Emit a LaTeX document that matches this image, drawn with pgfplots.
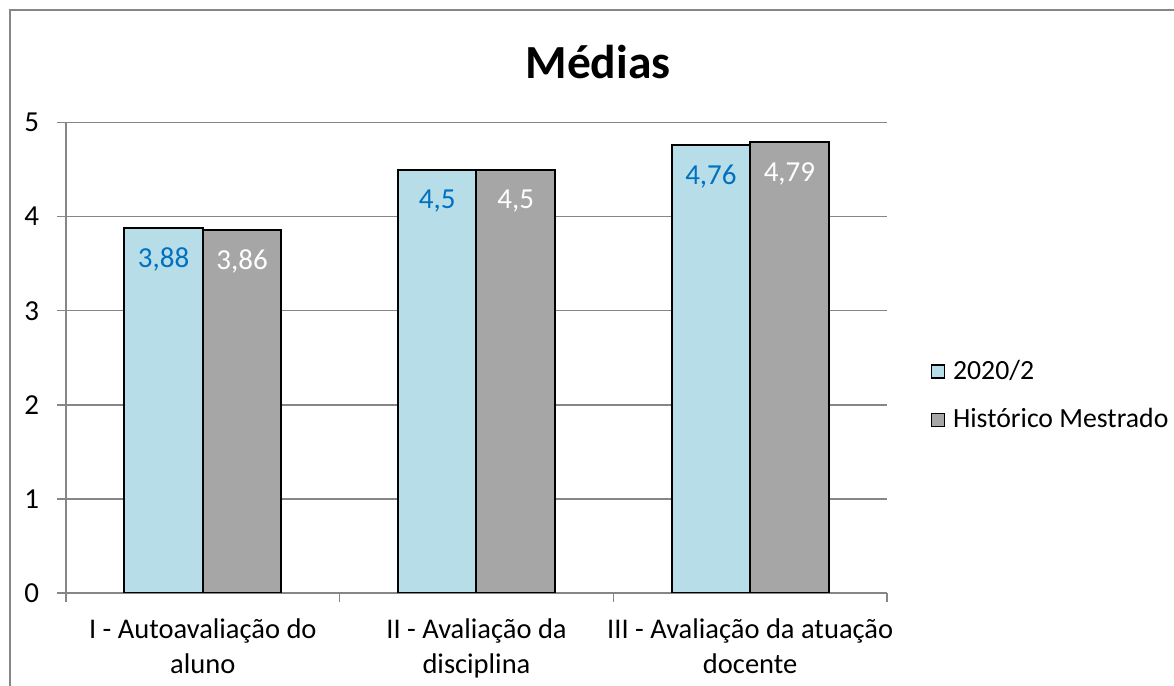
\documentclass[border=0pt]{standalone}
\usepackage{fontspec}
\setmainfont{Carlito}
\usepackage{pgfplots}
\pgfplotsset{compat=1.18}
\definecolor{barblue}{HTML}{B7DEE8}
\definecolor{bargray}{HTML}{A6A6A6}
\definecolor{axgray}{HTML}{868686}
\definecolor{lblblue}{HTML}{0070C0}
\begin{document}
\fontsize{11.4}{14}\selectfont
\begin{tikzpicture}
\path[use as bounding box] (-26.4pt,-37.2pt) rectangle (443.2pt,237.2pt);
\draw[axgray, line width=0.8pt] (-22.4pt,-37.2pt) -- (-22.4pt,233.2pt) -- (443.2pt,233.2pt);
\begin{axis}[
  at={(0,0)}, anchor=south west, scale only axis,
  width=328.4pt, height=188.2pt,
  xmin=-0.5, xmax=2.5, ymin=0, ymax=5,
  axis lines*=left,
  axis line style={axgray, line width=0.6pt},
  ytick={0,1,2,3,4,5},
  ymajorgrids, grid style={axgray, line width=0.6pt},
  tick align=outside,
  major tick length=3.6pt,
  tick style={axgray, line width=0.6pt},
  /pgf/number format/assume math mode=true,
  /pgf/number format/use comma,
  yticklabel style={font=\fontsize{11.6}{14}\selectfont, xshift=-3.2pt},
  xtick={-0.5,0.5,1.5,2.5}, xticklabels={},
  extra x ticks={0,1,2},
  extra x tick labels={I - Autoavaliação do\\aluno, II - Avaliação da\\disciplina, III - Avaliação da atuação\\docente},
  extra x tick style={major tick length=0pt},
  xticklabel style={align=center, font=\fontsize{11.4}{14}\selectfont, anchor=north, yshift=-6.4pt},
  ybar=0pt, bar width=31.4pt,
  title={Médias},
  title style={at={(axis description cs:0.648,1.097)}, anchor=center, font=\bfseries\fontsize{19}{22}\selectfont},
  legend style={draw=none, fill=none, at={(axis description cs:1.0525,0.419)}, anchor=west,
    inner sep=0pt, nodes={inner sep=0pt}, row sep=10pt,
    font=\fontsize{11.1}{14}\selectfont,
    /tikz/every odd column/.append style={column sep=3.2pt}},
  legend cell align=left,
  legend image code/.code={\draw[#1, draw=black, line width=0.6pt] (0pt,-2.6pt) rectangle (5.2pt,2.6pt);},
  nodes near coords,
  nodes near coords align={center},
]
\addplot[fill=barblue, draw=black, line width=0.8pt,
  every node near coord/.append style={anchor=north, yshift=-3.8pt, text=lblblue, font=\fontsize{11.6}{14}\selectfont}]
  coordinates {(0,3.88) (1,4.5) (2,4.76)};
\addplot[fill=bargray, draw=black, line width=0.8pt,
  every node near coord/.append style={anchor=north, yshift=-3.8pt, text=white, font=\fontsize{11.6}{14}\selectfont}]
  coordinates {(0,3.86) (1,4.5) (2,4.79)};
\legend{2020/2, Histórico Mestrado}
\end{axis}
\end{tikzpicture}
\end{document}
